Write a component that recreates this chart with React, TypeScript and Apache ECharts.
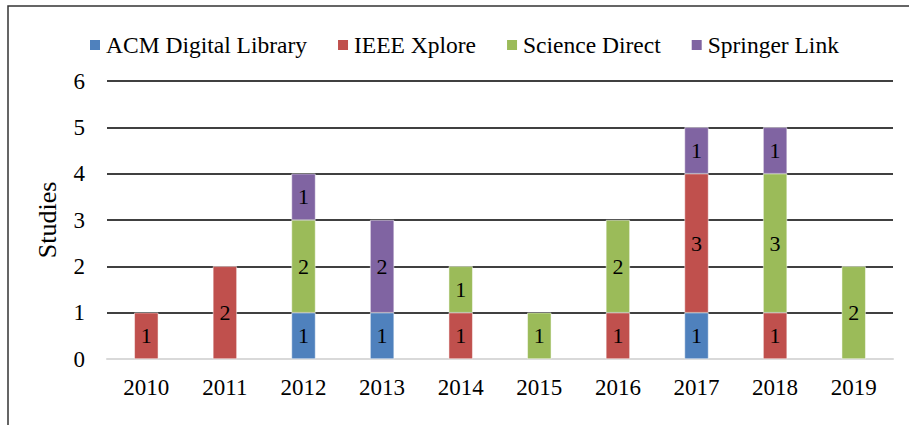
import React, { useEffect, useRef } from "react";
import * as echarts from "echarts";

const years = ["2010", "2011", "2012", "2013", "2014", "2015", "2016", "2017", "2018", "2019"];
const acm = [0, 0, 1, 1, 0, 0, 0, 1, 0, 0];
const ieee = [1, 2, 0, 0, 1, 0, 1, 3, 1, 0];
const scienceDirect = [0, 0, 2, 0, 1, 1, 2, 0, 3, 2];
const springer = [0, 0, 1, 2, 0, 0, 0, 1, 1, 0];

const seriesDefs = [
  { name: "ACM Digital Library", data: acm, color: "#4F81BD" },
  { name: "IEEE Xplore", data: ieee, color: "#C0504D" },
  { name: "Science Direct", data: scienceDirect, color: "#9BBB59" },
  { name: "Springer Link", data: springer, color: "#8064A2" },
];

const FONT = "'Liberation Serif', 'Times New Roman', serif";

export default function App() {
  const ref = useRef<HTMLDivElement>(null);
  useEffect(() => {
    if (!ref.current) return;
    const chart = echarts.init(ref.current, null, { renderer: "svg" });
    chart.setOption({
      animation: false,
      backgroundColor: "#ffffff",
      textStyle: { fontFamily: FONT },
      graphic: [
        {
          type: "rect",
          shape: { x: 8, y: 6, width: 960, height: 500 },
          style: { fill: "none", stroke: "#333333", lineWidth: 1.5 },
          silent: true,
        },
      ],
      legend: {
        left: 88,
        top: 33,
        padding: 0,
        itemWidth: 12,
        itemHeight: 12,
        itemGap: 29,
        icon: "rect",
        textStyle: { fontFamily: FONT, fontSize: 23.5, color: "#000" },
        data: seriesDefs.map((s) => s.name),
      },
      grid: { left: 107, right: 16, top: 81, bottom: 66 },
      xAxis: {
        type: "category",
        data: years,
        axisLine: { lineStyle: { color: "#d9d9d9", width: 2 } },
        axisTick: { show: false },
        axisLabel: { fontFamily: FONT, fontSize: 23, color: "#000", margin: 17 },
      },
      yAxis: {
        type: "value",
        min: 0,
        max: 6,
        interval: 1,
        name: "Studies",
        nameLocation: "middle",
        nameGap: 47,
        nameTextStyle: { fontFamily: FONT, fontSize: 26, color: "#000" },
        axisLine: { show: false },
        axisTick: { show: false },
        axisLabel: { fontFamily: FONT, fontSize: 23, color: "#000", margin: 22 },
        splitLine: { lineStyle: { color: "#000", width: 1.5 } },
      },
      series: seriesDefs.map((s) => ({
        name: s.name,
        type: "bar",
        stack: "total",
        barWidth: 24,
        data: s.data.map((v) => (v === 0 ? null : v)),
        itemStyle: { color: s.color, borderColor: "#ffffff", borderWidth: 0.5 },
        label: {
          show: true,
          position: "inside",
          fontFamily: FONT,
          fontSize: 22,
          color: "#000",
        },
        z: 3,
      })),
    });
    return () => chart.dispose();
  }, []);
  return (
    <div
      ref={ref}
      style={{ position: "fixed", left: 0, top: 0, width: 909, height: 425 }}
    />
  );
}
